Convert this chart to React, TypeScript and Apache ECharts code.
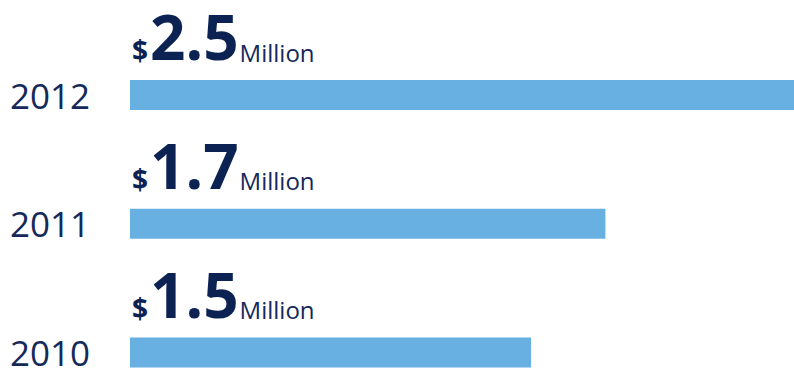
import React, { useEffect, useRef } from "react";
import * as echarts from "echarts";

const years = ["2012", "2011", "2010"];
const barValues = [2.5, 1.79, 1.51];
const valueLabels = ["2.5", "1.7", "1.5"];
const unitLabel = "Million";

export default function App() {
  const ref = useRef<HTMLDivElement>(null);
  useEffect(() => {
    document.body.style.margin = "0";
    const chart = echarts.init(ref.current!, null, { renderer: "svg" });
    const navy = "#0b2253";
    chart.setOption({
      animation: false,
      backgroundColor: "#ffffff",
      grid: { left: 130, right: 0, top: 95, bottom: 17, containLabel: false },
      xAxis: {
        type: "value",
        min: 0,
        max: 2.5,
        show: false,
      },
      yAxis: {
        type: "category",
        data: years,
        inverse: true,
        boundaryGap: false,
        axisLine: { show: false },
        axisTick: { show: false },
        splitLine: { show: false },
        axisLabel: {
          align: "right",
          margin: 40,
          color: "#14295a",
          fontFamily: "Open Sans",
          fontSize: 35,
          lineHeight: 30,
          padding: [1, 0, 0, 0],
        },
      },
      series: [
        {
          type: "bar",
          data: barValues,
          barWidth: 30,
          itemStyle: { color: "#69b0e2" },
          label: {
            show: true,
            position: [2, -13],
            align: "left",
            verticalAlign: "bottom",
            formatter: (p: any) => `{d|$}{n|${valueLabels[p.dataIndex]}}{u|${unitLabel}}`,
            rich: {
              d: {
                fontFamily: "Open Sans",
                fontWeight: "bold",
                fontSize: 28,
                color: navy,
                verticalAlign: "bottom",
                padding: [0, 2, 3, 0],
              },
              n: {
                fontFamily: "Open Sans",
                fontWeight: "bold",
                fontSize: 62,
                color: navy,
                verticalAlign: "bottom",
              },
              u: {
                fontFamily: "Open Sans",
                fontSize: 24,
                color: "#14295a",
                verticalAlign: "bottom",
                padding: [0, 0, 3, 1],
              },
            },
          },
        },
      ],
    });
    return () => chart.dispose();
  }, []);
  return <div ref={ref} style={{ width: 794, height: 370 }} />;
}
